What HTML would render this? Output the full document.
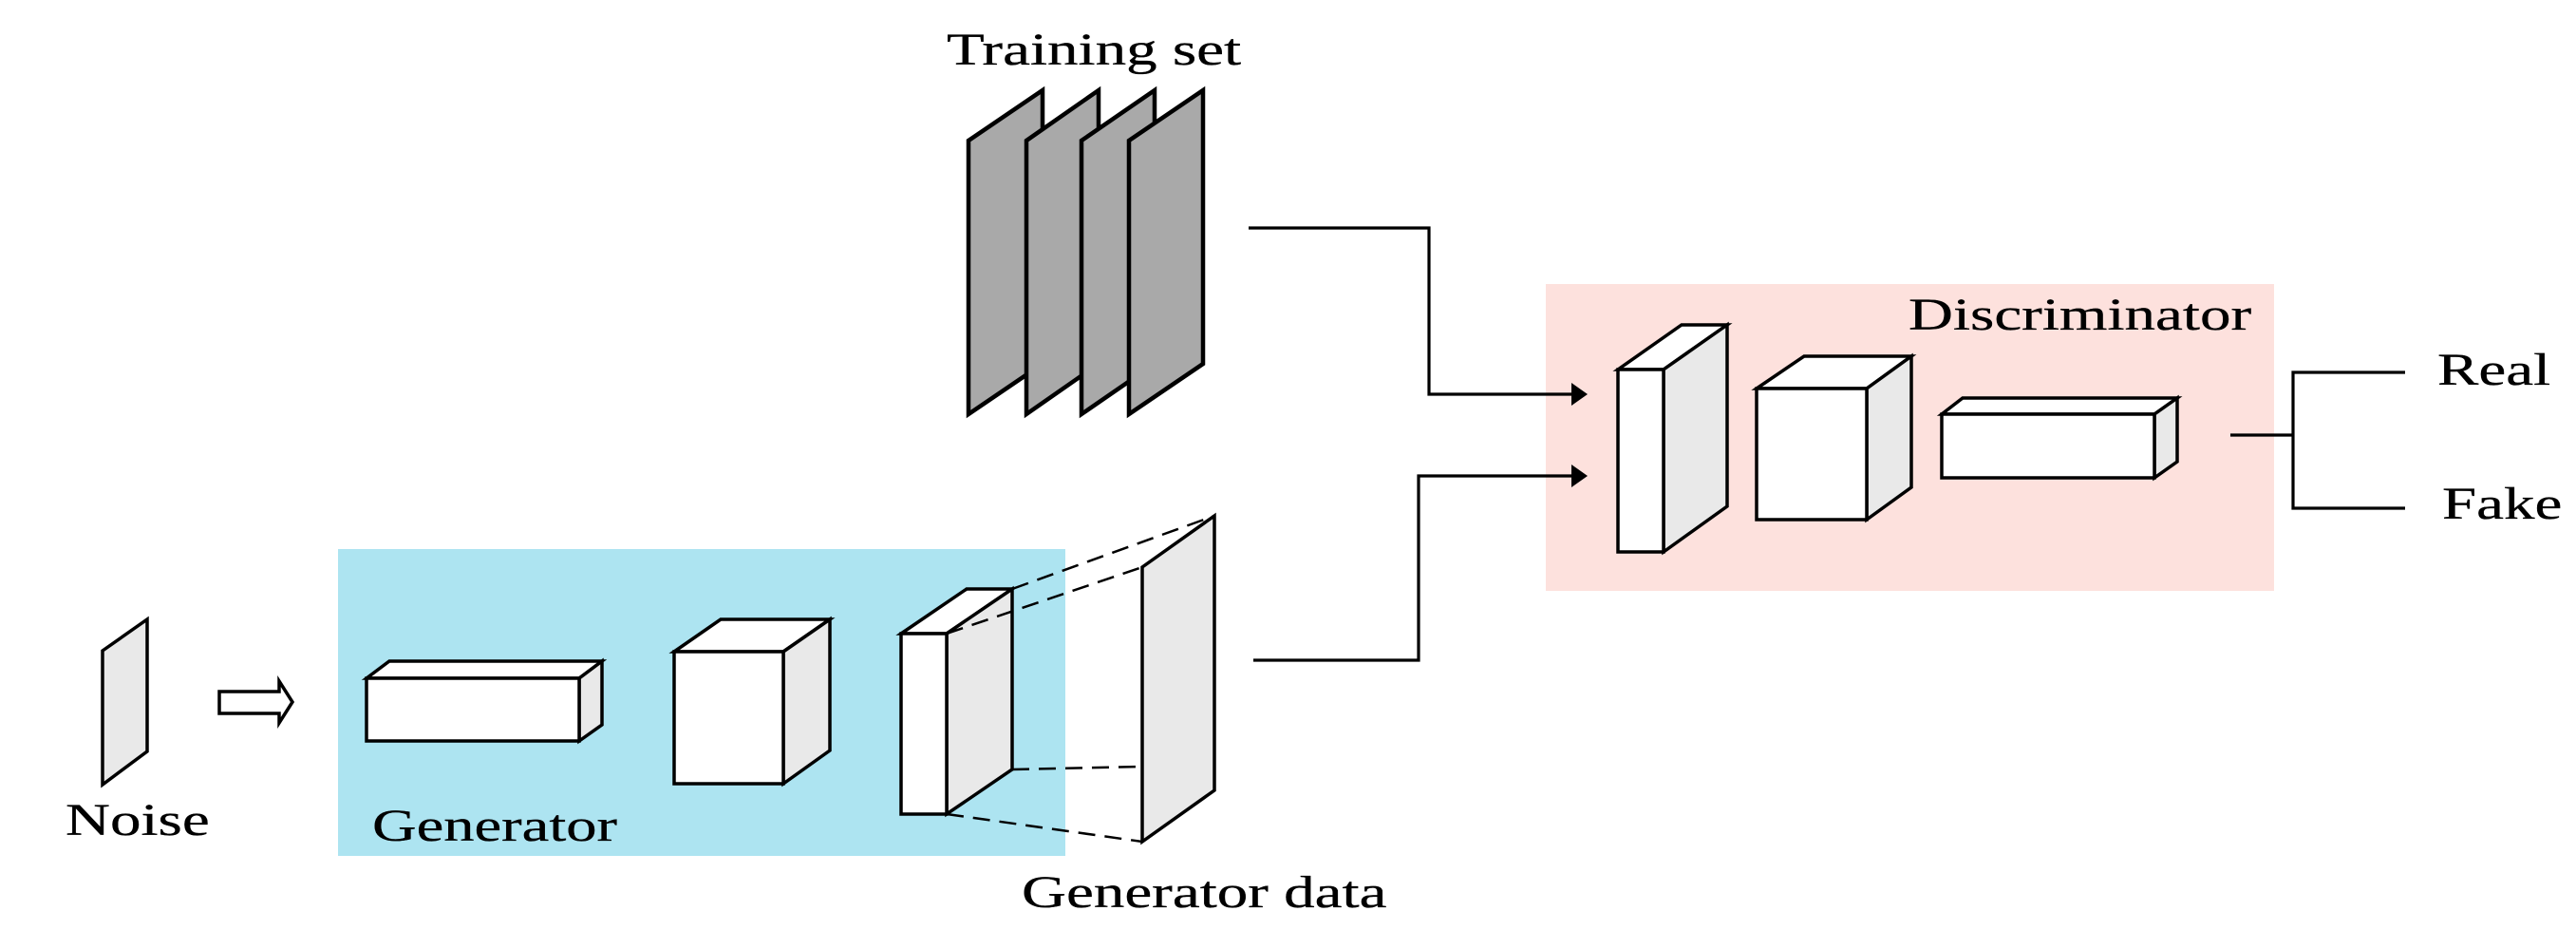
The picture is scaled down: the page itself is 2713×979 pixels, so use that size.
<!DOCTYPE html>
<html>
<head>
<meta charset="utf-8">
<style>
html,body{margin:0;padding:0;background:#fff}
svg{display:block}
text{font-family:"Liberation Serif",serif;font-size:48px;fill:#000;stroke:#000;stroke-width:.3px}
</style>
</head>
<body>
<svg width="2713" height="979" viewBox="0 0 2713 979" xmlns="http://www.w3.org/2000/svg">
<rect width="2713" height="979" fill="#fff"/>
<rect x="356" y="578" width="766" height="323" fill="#ADE4F1"/>
<rect x="1628" y="299" width="767" height="323" fill="#FDE1DD"/>

<g stroke="#000" stroke-width="4.5" stroke-linejoin="miter" fill="#A9A9A9">
<polygon points="1020,148 1098,95 1098,383 1020,436"/>
<polygon points="1081,148 1157,95 1157,383 1081,436"/>
<polygon points="1139,148 1216,95 1216,383 1139,436"/>
<polygon points="1189,148 1267,95 1267,383 1189,436"/>
</g>

<g stroke="#000" stroke-width="3.5" stroke-linejoin="miter">
<polygon points="108,685 155,652 155,791 108,826" fill="#E9E9E9"/>
<polygon points="231,728 294,728 294,717 308,739 294,761 294,751 231,751" fill="#fff"/>

<polygon points="386,714 410,696 634,696 610,714" fill="#fff"/>
<polygon points="610,714 634,696 634,763 610,780" fill="#E9E9E9"/>
<rect x="386" y="714" width="224" height="66" fill="#fff"/>

<polygon points="710,686 759,652 874,652 825,686" fill="#fff"/>
<polygon points="825,686 874,652 874,790 825,825" fill="#E9E9E9"/>
<rect x="710" y="686" width="115" height="139" fill="#fff"/>

<polygon points="949,667 1018,620 1066,620 997,667" fill="#fff"/>
<polygon points="997,667 1066,620 1066,810 997,857" fill="#E9E9E9"/>
<rect x="949" y="667" width="48" height="190" fill="#fff"/>

<polygon points="1203,597 1279,543 1279,832 1203,886" fill="#E9E9E9"/>

<polygon points="1704,389 1771,342 1819,342 1752,389" fill="#fff"/>
<polygon points="1752,389 1819,342 1819,533 1752,581" fill="#E9E9E9"/>
<rect x="1704" y="389" width="48" height="192" fill="#fff"/>

<polygon points="1850,409 1900,375 2013,375 1966,409" fill="#fff"/>
<polygon points="1966,409 2013,375 2013,513 1966,547" fill="#E9E9E9"/>
<rect x="1850" y="409" width="116" height="138" fill="#fff"/>

<polygon points="2045,436 2067,419 2293,419 2269,436" fill="#fff"/>
<polygon points="2269,436 2293,419 2293,486 2269,503" fill="#E9E9E9"/>
<rect x="2045" y="436" width="224" height="67" fill="#fff"/>
</g>

<g stroke="#000" stroke-width="2.5" fill="none" stroke-dasharray="18 10">
<line x1="1066" y1="620" x2="1279" y2="543"/>
<line x1="997" y1="667" x2="1203" y2="597"/>
<line x1="1066" y1="810" x2="1203" y2="807"/>
<line x1="997" y1="857" x2="1203" y2="886"/>
</g>

<g stroke="#000" stroke-width="3.2" fill="none">
<polyline points="1315,240 1505,240 1505,415 1660,415"/>
<polyline points="1320,695 1494,695 1494,501 1660,501"/>
<line x1="2349" y1="458" x2="2415" y2="458"/>
<polyline points="2533,392 2415,392 2415,535 2533,535"/>
</g>
<polygon points="1655,403 1672,415 1655,427" fill="#000"/>
<polygon points="1655,489 1672,501 1655,513" fill="#000"/>

<text transform="translate(997,68) scale(1.355,1)">Training set</text>
<text transform="translate(69,879) scale(1.355,1)">Noise</text>
<text transform="translate(392,885) scale(1.345,1)">Generator</text>
<text transform="translate(1076,955) scale(1.355,1)">Generator data</text>
<text transform="translate(2010,347) scale(1.355,1)">Discriminator</text>
<text transform="translate(2567,405) scale(1.355,1)">Real</text>
<text transform="translate(2572,546) scale(1.355,1)">Fake</text>
</svg>
</body>
</html>
